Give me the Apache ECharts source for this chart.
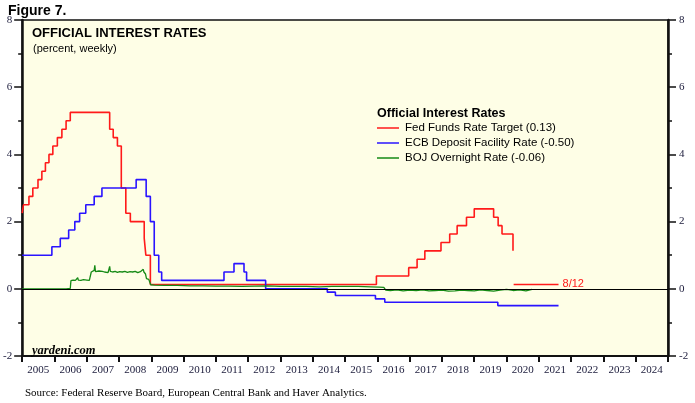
<!DOCTYPE html>
<html>
<head>
<meta charset="utf-8">
<script src="https://cdn.jsdelivr.net/npm/echarts@6/dist/echarts.min.js"></script>
<style>
  html, body { margin: 0; padding: 0; background: #fff; }
  #main { width: 695px; height: 403px; }
</style>
</head>
<body>
<div id="main"></div>
<script>
// year labels on the bottom axis
var years = ['2005', '2006', '2007', '2008', '2009', '2010', '2011', '2012', '2013', '2014',
  '2015', '2016', '2017', '2018', '2019', '2020', '2021', '2022', '2023', '2024'];

// Fed funds target: date of change, new level
var fedDates = [2005.00, 2005.04, 2005.21, 2005.33, 2005.49, 2005.61, 2005.72, 2005.83, 2005.95,
  2006.09, 2006.23, 2006.36, 2006.49, 2007.71, 2007.82, 2007.95, 2008.07, 2008.21, 2008.35,
  2008.78, 2008.83, 2008.97, 2015.97, 2016.97, 2017.23, 2017.47, 2017.97, 2018.24, 2018.47,
  2018.76, 2019.00, 2019.60, 2019.74, 2019.86, 2020.20];
var fedValues = [2.25, 2.50, 2.75, 3.00, 3.25, 3.50, 3.75, 4.00, 4.25,
  4.50, 4.75, 5.00, 5.25, 4.75, 4.50, 4.25, 3.00, 2.25, 2.00,
  1.50, 1.00, 0.13, 0.38, 0.63, 0.88, 1.13, 1.38, 1.63, 1.88,
  2.13, 2.38, 2.13, 1.88, 1.63, 1.13];

// latest Fed level drawn as a separate segment
var fedLatestDates = [2020.22, 2021.61];
var fedLatestValues = [0.13, 0.13];
var fedLatestLabel = '8/12';

// ECB deposit facility rate
var ecbDates = [2005.00, 2005.92, 2006.18, 2006.44, 2006.63, 2006.78, 2006.97, 2007.23, 2007.47,
  2008.53, 2008.84, 2008.97, 2009.09, 2009.23, 2009.32, 2011.25, 2011.56, 2011.87, 2011.95,
  2012.54, 2014.45, 2014.70, 2015.94, 2016.23, 2019.73, 2021.61];
var ecbValues = [1.00, 1.25, 1.50, 1.75, 2.00, 2.25, 2.50, 2.75, 3.00,
  3.25, 2.75, 2.00, 1.00, 0.50, 0.25, 0.50, 0.75, 0.50, 0.25,
  0.00, -0.10, -0.20, -0.30, -0.40, -0.50, -0.50];

// BOJ overnight rate (weekly)
var bojDates = [2005.00, 2005.60, 2006.20, 2006.36, 2006.38, 2006.41, 2006.49, 2006.51, 2006.58,
  2006.65, 2006.70, 2006.72, 2006.74, 2006.82, 2006.90, 2007.00, 2007.08, 2007.12, 2007.14,
  2007.19, 2007.23, 2007.25, 2007.27, 2007.33, 2007.38, 2007.41, 2007.43, 2007.48, 2007.55,
  2007.60, 2007.66, 2007.69, 2007.71, 2007.73, 2007.80, 2007.88, 2007.95, 2008.02, 2008.10,
  2008.18, 2008.26, 2008.34, 2008.42, 2008.50, 2008.58, 2008.66, 2008.72, 2008.75, 2008.77,
  2008.82, 2008.85, 2008.92, 2008.98, 2009.10, 2009.40, 2009.80, 2010.20, 2010.60, 2011.00,
  2011.40, 2011.80, 2012.20, 2012.60, 2013.00, 2013.40, 2013.80, 2014.20, 2014.60, 2015.00,
  2015.40, 2015.80, 2016.05, 2016.20, 2016.26, 2016.40, 2016.60, 2016.80, 2017.00, 2017.20,
  2017.40, 2017.60, 2017.80, 2018.00, 2018.20, 2018.40, 2018.60, 2018.80, 2019.00, 2019.20,
  2019.40, 2019.60, 2019.80, 2020.00, 2020.20, 2020.40, 2020.60, 2020.79];
var bojValues = [0.00, 0.00, 0.00, 0.00, 0.02, 0.00, 0.01, 0.24, 0.26,
  0.25, 0.27, 0.33, 0.26, 0.25, 0.27, 0.26, 0.25, 0.27, 0.50,
  0.52, 0.55, 0.70, 0.51, 0.50, 0.53, 0.58, 0.49, 0.52, 0.50,
  0.54, 0.48, 0.53, 0.67, 0.52, 0.50, 0.52, 0.49, 0.51, 0.50,
  0.52, 0.49, 0.51, 0.50, 0.52, 0.48, 0.51, 0.50, 0.58, 0.50,
  0.44, 0.30, 0.28, 0.12, 0.11, 0.10, 0.10, 0.09, 0.09, 0.08,
  0.08, 0.07, 0.08, 0.09, 0.07, 0.07, 0.07, 0.06, 0.07, 0.07,
  0.07, 0.06, 0.05, 0.04, -0.04, -0.05, -0.03, -0.06, -0.04, -0.05,
  -0.03, -0.06, -0.05, -0.04, -0.07, -0.06, -0.04, -0.05, -0.06, -0.03,
  -0.05, -0.07, -0.04, -0.02, -0.05, -0.03, -0.06, -0.02];

var seriesNames = ['Fed Funds Rate Target (0.13)', 'ECB Deposit Facility Rate (-0.50)', 'BOJ Overnight Rate (-0.06)'];

function zip(xs, ys) {
  var out = [];
  for (var i = 0; i < xs.length; i++) {
    out.push([xs[i], ys[i]]);
  }
  return out;
}

var sans = 'Liberation Sans';
var serif = 'Liberation Serif';

var chart = echarts.init(document.getElementById('main'));

var yAxisBase = {
  type: 'value',
  min: -2,
  max: 8,
  interval: 2,
  splitLine: { show: false },
  axisLine: { show: true, lineStyle: { color: '#111', width: 2.5 } },
  axisTick: { show: true, inside: false, length: 8, lineStyle: { color: '#111', width: 1.5 } },
  minorTick: { show: true, splitNumber: 2, length: 4, lineStyle: { color: '#111', width: 1.5 } },
  axisLabel: { fontFamily: serif, fontSize: 11, color: '#1a1a3a', margin: 10 }
};

var option = {
  backgroundColor: '#fff',
  animation: false,
  grid: {
    left: 21,
    right: 27,
    top: 20,
    bottom: 47,
    show: true,
    backgroundColor: '#fefee6',
    borderColor: '#111',
    borderWidth: 1.5
  },
  title: [{
    text: 'Figure 7.',
    left: 3,
    top: -1,
    textStyle: { fontFamily: sans, fontSize: 14, fontWeight: 'bold', color: '#000' }
  }, {
    text: 'OFFICIAL INTEREST RATES',
    left: 27,
    top: 22,
    textStyle: { fontFamily: sans, fontSize: 13, fontWeight: 'bold', color: '#000' }
  }, {
    text: '(percent, weekly)',
    left: 28,
    top: 38,
    textStyle: { fontFamily: sans, fontSize: 11, fontWeight: 'normal', color: '#000' }
  }, {
    text: 'Official Interest Rates',
    left: 372,
    top: 102,
    textStyle: { fontFamily: sans, fontSize: 12.5, fontWeight: 'bold', color: '#000' }
  }, {
    text: 'yardeni.com',
    left: 27,
    top: 339,
    textStyle: { fontFamily: serif, fontSize: 12.5, fontWeight: 'bold', fontStyle: 'italic', color: '#000' }
  }, {
    text: 'Source: Federal Reserve Board, European Central Bank and Haver Analytics.',
    left: 20,
    top: 383,
    textStyle: { fontFamily: serif, fontSize: 11, fontWeight: 'normal', color: '#000' }
  }],
  legend: {
    data: seriesNames,
    orient: 'vertical',
    left: 372,
    top: 116,
    icon: 'rect',
    itemWidth: 22,
    itemHeight: 1.5,
    itemGap: 1,
    textStyle: { fontFamily: sans, fontSize: 11.5, color: '#000', lineHeight: 14, padding: [0, 0, 0, 1] }
  },
  xAxis: [{
    type: 'value',
    min: 2005,
    max: 2025,
    show: false
  }, {
    type: 'category',
    data: years,
    position: 'bottom',
    boundaryGap: true,
    axisLine: { show: true, onZero: false, lineStyle: { color: '#111', width: 2 } },
    axisTick: { show: true, inside: false, length: 6, lineStyle: { color: '#111', width: 2 } },
    axisLabel: { fontFamily: serif, fontSize: 11, color: '#1a1a3a', margin: 9, interval: 0 }
  }],
  yAxis: [
    Object.assign({}, yAxisBase, { position: 'left' }),
    Object.assign({}, yAxisBase, { position: 'right', axisLabel: Object.assign({}, yAxisBase.axisLabel, { margin: 11 }) })
  ],
  series: [{
    name: seriesNames[0],
    type: 'line',
    step: 'end',
    xAxisIndex: 0,
    yAxisIndex: 0,
    showSymbol: false,
    lineStyle: { color: '#ff1a1a', width: 1.6 },
    itemStyle: { color: '#ff1a1a' },
    data: zip(fedDates, fedValues),
    markLine: {
      silent: true,
      symbol: 'none',
      label: { show: false },
      lineStyle: { color: '#000', width: 1.2, type: 'solid' },
      data: [{ yAxis: 0 }]
    }
  }, {
    name: 'Fed latest',
    type: 'line',
    xAxisIndex: 0,
    yAxisIndex: 0,
    showSymbol: false,
    lineStyle: { color: '#ff1a1a', width: 1.6 },
    itemStyle: { color: '#ff1a1a' },
    data: zip(fedLatestDates, fedLatestValues),
    endLabel: {
      show: true,
      formatter: fedLatestLabel,
      color: '#ff1a1a',
      fontFamily: sans,
      fontSize: 11,
      distance: 4
    }
  }, {
    name: seriesNames[1],
    type: 'line',
    step: 'end',
    xAxisIndex: 0,
    yAxisIndex: 0,
    showSymbol: false,
    lineStyle: { color: '#2a14ff', width: 1.6 },
    itemStyle: { color: '#2a14ff' },
    data: zip(ecbDates, ecbValues)
  }, {
    name: seriesNames[2],
    type: 'line',
    xAxisIndex: 0,
    yAxisIndex: 0,
    showSymbol: false,
    lineStyle: { color: '#158a15', width: 1.3 },
    itemStyle: { color: '#158a15' },
    data: zip(bojDates, bojValues)
  }]
};

chart.setOption(option);
</script>
</body>
</html>
